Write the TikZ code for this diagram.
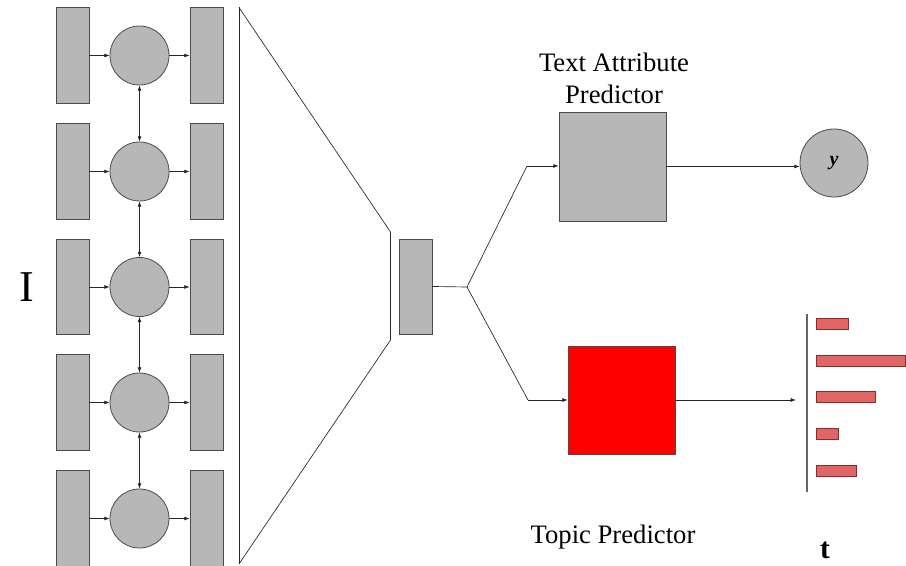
\documentclass[tikz,border=0pt]{standalone}
\usepackage{fontspec}
\setmainfont{Liberation Serif}
\usetikzlibrary{arrows.meta}
\definecolor{cellgray}{HTML}{B7B7B7}
\definecolor{edgegray}{HTML}{4A4A4A}
\definecolor{topicred}{HTML}{FF0000}
\definecolor{barred}{HTML}{E06666}
\definecolor{bardark}{HTML}{8A2A2A}
\tikzset{
  cellbox/.style={draw=edgegray, fill=cellgray, line width=0.6pt, minimum width=24.75pt, minimum height=71.5pt, inner sep=0pt},
  hidcirc/.style={circle, draw=edgegray, fill=cellgray, line width=0.6pt, minimum size=44.25pt, inner sep=0pt},
  wire/.style={draw=black!85, line width=0.5pt},
  arr/.style={wire, -{Latex[length=4pt,width=3pt]}},
  darr/.style={wire, {Latex[length=4pt,width=3pt]}-{Latex[length=4pt,width=3pt]}},
  bar/.style={draw=bardark, fill=barred, line width=0.5pt, inner sep=0pt, minimum height=8.25pt, anchor=west},
}
\begin{document}
\begin{tikzpicture}[x=0.75pt, y=-0.75pt]
\useasboundingbox (0,0) rectangle (906,566);

% bidirectional encoder: five rows of input box, hidden state, output box
\foreach \i/\yy in {1/55.5, 2/171.5, 3/287, 4/402.5, 5/518.5} {
  \node[cellbox] (in\i) at (72.5,\yy) {};
  \node[hidcirc] (h\i) at (139.5,\yy) {};
  \node[cellbox] (out\i) at (206.5,\yy) {};
  \draw[arr] (in\i.east) -- (h\i.west);
  \draw[arr] (h\i.east) -- (out\i.west);
}
\foreach \a/\b in {1/2, 2/3, 3/4, 4/5} {
  \draw[darr] (h\a.south) -- (h\b.north);
}

\node[font=\fontsize{33pt}{36pt}\selectfont] (inp) at (27,287) {I};

% pooling funnel
\coordinate (ftl) at (239,7.5);
\coordinate (fbl) at (239,564);
\coordinate (ftr) at (390.5,232);
\coordinate (fbr) at (390.5,340);
\draw[wire] (ftl) -- (fbl);
\draw[wire] (ftl) -- (ftr) -- (fbr) -- (fbl);

% sentence representation
\node[cellbox, minimum height=71.25pt] (rep) at (415.5,286.5) {};
\coordinate (split) at (467,287);
\coordinate (upbend) at (527,166);
\coordinate (lobend) at (528,400);
\draw[wire] (rep.east) -- (split);
\draw[wire] (split) -- (upbend);
\draw[wire] (split) -- (lobend);

% text attribute predictor
\node[draw=edgegray, fill=cellgray, line width=0.6pt, minimum width=80.25pt, minimum height=81.75pt, inner sep=0pt] (tap) at (612.5,166.5) {};
\node[font=\fontsize{20pt}{24pt}\selectfont, align=center] (taplbl) at (614,78) {Text Attribute\\Predictor};
\draw[arr] (upbend) -- (upbend -| tap.west);
\node[circle, draw=edgegray, fill=cellgray, line width=0.6pt, minimum size=51pt, inner sep=0pt, font=\fontsize{15pt}{17pt}\selectfont] (yout) at (834,163) {\textbf{\textit{y}}};
\draw[arr] (tap.east) -- (tap.east -| yout.west);

% topic predictor
\node[draw=edgegray, fill=topicred, line width=0.6pt, minimum width=80.25pt, minimum height=81pt, inner sep=0pt] (tp) at (621.5,400) {};
\node[font=\fontsize{20pt}{24pt}\selectfont] (tplbl) at (613,537) {Topic Predictor};
\draw[arr] (lobend) -- (lobend -| tp.west);

% topic distribution
\coordinate (axtop) at (807,314);
\coordinate (axbot) at (807,492);
\draw[draw=black!60, line width=0.8pt] (axtop) -- (axbot);
\coordinate (distin) at (796,400);
\draw[arr] (tp.east) -- (distin);
\node[bar, minimum width=24pt] (b1) at (816,323.5) {};
\node[bar, minimum width=66.75pt] (b2) at (816,360.5) {};
\node[bar, minimum width=44.25pt] (b3) at (816,396.5) {};
\node[bar, minimum width=16.5pt] (b4) at (816,433.5) {};
\node[bar, minimum width=30pt] (b5) at (816,471) {};
\node[font=\bfseries\fontsize{22pt}{24pt}\selectfont] (tout) at (825,550) {t};

\end{tikzpicture}
\end{document}
